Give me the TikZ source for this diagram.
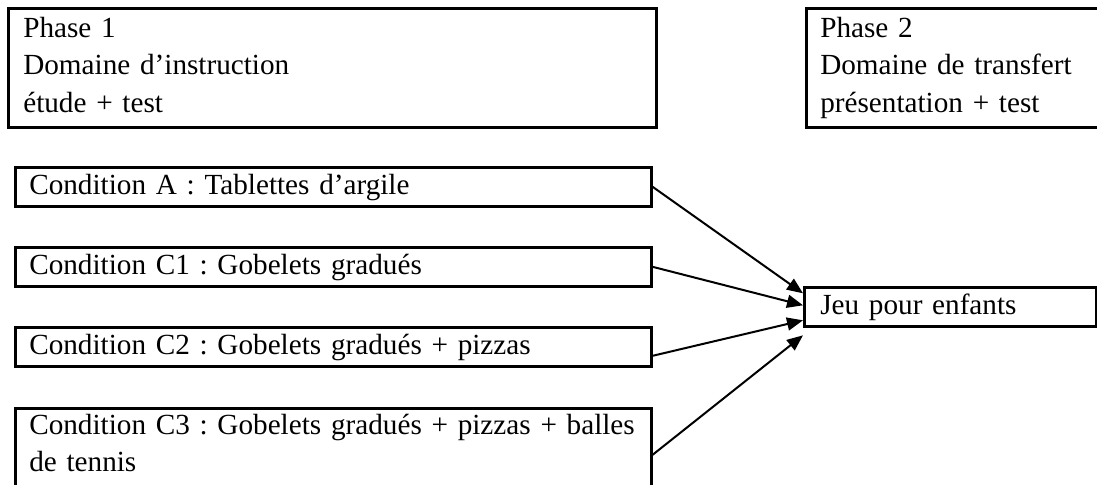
\documentclass[tikz,border=0pt]{standalone}
\usepackage{fontspec}
\setmainfont{Liberation Serif}
\usetikzlibrary{arrows.meta}
\frenchspacing

\tikzset{
	cadre/.style={draw, line width=1.3pt, anchor=north west, align=left,
		inner ysep=0pt, font=\fontsize{14.6pt}{18.75pt}\selectfont},
	phasebox/.style={cadre, inner xsep=7.5pt, text height=14.5pt, text depth=45pt},
	condbox/.style={cadre, inner xsep=7pt, text height=13.5pt, text depth=6pt},
	fleche/.style={line width=1pt, -{Triangle[length=8pt,width=6.5pt]}}
}

\begin{document}
\begin{tikzpicture}[x=0.5pt, y=-0.5pt]
	\useasboundingbox (0,0) rectangle (1097,484);
	\clip (0,0) rectangle (1097,484);
	% phases
	\node[phasebox, text width=309pt] (phaseA) at (7,7)
		{Phase 1\\Domaine d’instruction\\étude + test};
	\node[phasebox, inner xsep=7pt, text width=200pt] (phaseB) at (805,7)
		{Phase 2\\Domaine de transfert\\présentation + test};
	% conditions
	\node[condbox, text width=304pt] (condA) at (14,166)
		{Condition A : Tablettes d’argile};
	\node[condbox, text width=304pt] (condC1) at (14,246)
		{Condition C1 : Gobelets gradués};
	\node[condbox, text width=304pt] (condC2) at (14,326)
		{Condition C2 : Gobelets gradués + pizzas};
	\node[condbox, text width=304pt, text height=13pt, text depth=33.5pt] (condC3) at (14,407)
		{Condition C3 : Gobelets gradués + pizzas + balles\\de tennis};
	\node[condbox, inner xsep=8pt, text width=130pt] (jeu) at (803,286)
		{Jeu pour enfants};
	% fleches
	\draw[fleche] (condA.east) -- ([yshift=6.75pt]jeu.west);
	\draw[fleche] (condC1.east) -- ([yshift=0.75pt]jeu.west);
	\draw[fleche] ([yshift=-4.5pt]condC2.east) -- ([yshift=-6.75pt]jeu.west);
	\draw[fleche] (condC3.east) -- ([yshift=-14.25pt]jeu.west);
\end{tikzpicture}
\end{document}
